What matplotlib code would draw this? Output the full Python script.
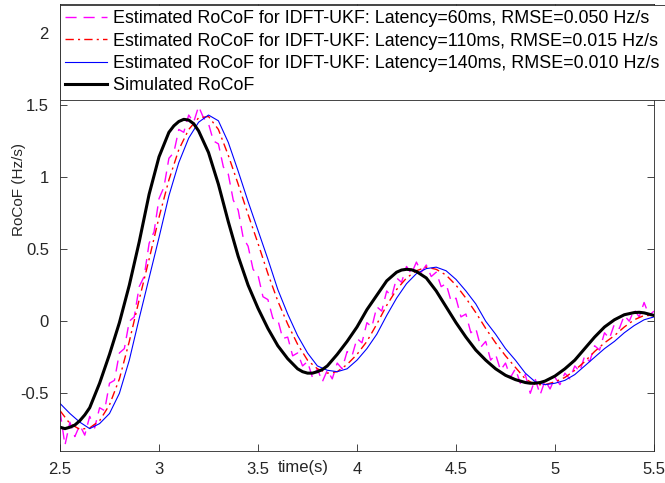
import matplotlib
matplotlib.use("Agg")
import matplotlib.pyplot as plt

plt.rcParams['font.family'] = ['Liberation Sans', 'DejaVu Sans']

# simulated RoCoF (Hz/s), extra samples around the extrema
t_sim = [2.50, 2.525, 2.55, 2.575, 2.60, 2.625, 2.65, 2.70, 2.75, 2.80, 2.85, 2.90, 2.95,
         3.00, 3.05, 3.075, 3.10, 3.125, 3.15, 3.175, 3.20, 3.25, 3.30, 3.35, 3.40, 3.45,
         3.50, 3.55, 3.60, 3.65, 3.70, 3.725, 3.75, 3.775, 3.80, 3.825, 3.85, 3.90, 3.95,
         4.00, 4.05, 4.10, 4.15, 4.20, 4.225, 4.25, 4.275, 4.30, 4.35, 4.40, 4.45,
         4.50, 4.55, 4.60, 4.65, 4.70, 4.75, 4.80, 4.85, 4.875, 4.90, 4.925, 4.95,
         5.00, 5.05, 5.10, 5.15, 5.20, 5.25, 5.30, 5.35, 5.40, 5.425, 5.45, 5.50]
rocof_sim = [-0.735, -0.745, -0.735, -0.72, -0.69, -0.65, -0.60, -0.43, -0.23, -0.01, 0.25, 0.55, 0.88,
             1.14, 1.31, 1.355, 1.385, 1.40, 1.395, 1.37, 1.32, 1.17, 0.95, 0.69, 0.45, 0.25,
             0.09, -0.05, -0.17, -0.26, -0.33, -0.35, -0.36, -0.36, -0.35, -0.335, -0.31, -0.23, -0.14,
             -0.04, 0.08, 0.18, 0.28, 0.34, 0.355, 0.36, 0.357, 0.345, 0.30, 0.21, 0.10,
             -0.01, -0.11, -0.20, -0.27, -0.33, -0.375, -0.405, -0.425, -0.43, -0.43, -0.425, -0.415,
             -0.38, -0.33, -0.27, -0.19, -0.11, -0.04, 0.01, 0.045, 0.06, 0.062, 0.058, 0.04]

# estimates, sampled every 0.05 s
t_est = [2.50, 2.55, 2.60, 2.65, 2.70, 2.75, 2.80, 2.85, 2.90, 2.95,
         3.00, 3.05, 3.10, 3.15, 3.20, 3.25, 3.30, 3.35, 3.40, 3.45,
         3.50, 3.55, 3.60, 3.65, 3.70, 3.75, 3.80, 3.85, 3.90, 3.95,
         4.00, 4.05, 4.10, 4.15, 4.20, 4.25, 4.30, 4.35, 4.40, 4.45,
         4.50, 4.55, 4.60, 4.65, 4.70, 4.75, 4.80, 4.85, 4.90, 4.95,
         5.00, 5.05, 5.10, 5.15, 5.20, 5.25, 5.30, 5.35, 5.40, 5.45, 5.50]

# latency 140 ms
rocof_140 = [-0.57, -0.64, -0.70, -0.745, -0.71, -0.64, -0.50, -0.27, 0.02, 0.30,
             0.58, 0.87, 1.10, 1.27, 1.38, 1.43, 1.39, 1.24, 1.04, 0.83,
             0.63, 0.43, 0.22, 0.05, -0.10, -0.22, -0.31, -0.34, -0.35, -0.33,
             -0.27, -0.19, -0.09, 0.04, 0.16, 0.26, 0.33, 0.365, 0.375, 0.35,
             0.29, 0.21, 0.12, 0.00, -0.09, -0.19, -0.27, -0.36, -0.42, -0.44,
             -0.43, -0.41, -0.37, -0.31, -0.25, -0.19, -0.14, -0.08, -0.03, 0.01, 0.03]

# latency 110 ms
rocof_110 = [-0.62, -0.71, -0.75, -0.74, -0.69, -0.58, -0.40, -0.14, 0.15, 0.43,
             0.72, 0.98, 1.19, 1.33, 1.41, 1.42, 1.33, 1.15, 0.95, 0.74,
             0.54, 0.33, 0.14, -0.02, -0.16, -0.27, -0.33, -0.36, -0.35, -0.30,
             -0.23, -0.14, -0.02, 0.11, 0.22, 0.30, 0.35, 0.375, 0.36, 0.32,
             0.25, 0.16, 0.06, -0.05, -0.15, -0.24, -0.32, -0.40, -0.44, -0.44,
             -0.42, -0.39, -0.34, -0.28, -0.21, -0.15, -0.10, -0.04, 0.01, 0.04, 0.04]

# latency 60 ms, sampled every 0.025 s
t_60 = [2.500, 2.525, 2.550, 2.575, 2.600, 2.625, 2.650, 2.675, 2.700, 2.725,
        2.750, 2.775, 2.800, 2.825, 2.850, 2.875, 2.900, 2.925, 2.950, 2.975,
        3.000, 3.025, 3.050, 3.075, 3.100, 3.125, 3.150, 3.175, 3.200, 3.225,
        3.250, 3.275, 3.300, 3.325, 3.350, 3.375, 3.400, 3.425, 3.450, 3.475,
        3.500, 3.525, 3.550, 3.575, 3.600, 3.625, 3.650, 3.675, 3.700, 3.725,
        3.750, 3.775, 3.800, 3.825, 3.850, 3.875, 3.900, 3.925, 3.950, 3.975,
        4.000, 4.025, 4.050, 4.075, 4.100, 4.125, 4.150, 4.175, 4.200, 4.225,
        4.250, 4.275, 4.300, 4.325, 4.350, 4.375, 4.400, 4.425, 4.450, 4.475,
        4.500, 4.525, 4.550, 4.575, 4.600, 4.625, 4.650, 4.675, 4.700, 4.725,
        4.750, 4.775, 4.800, 4.825, 4.850, 4.875, 4.900, 4.925, 4.950, 4.975,
        5.000, 5.025, 5.050, 5.075, 5.100, 5.125, 5.150, 5.175, 5.200, 5.225,
        5.250, 5.275, 5.300, 5.325, 5.350, 5.375, 5.400, 5.425, 5.450, 5.475, 5.500]
rocof_60 = [-0.62, -0.86, -0.70, -0.80, -0.72, -0.79, -0.66, -0.74, -0.60, -0.62,
            -0.43, -0.41, -0.22, -0.19, 0.00, 0.03, 0.24, 0.31, 0.54, 0.62,
            0.85, 0.93, 1.13, 1.17, 1.33, 1.31, 1.43, 1.38, 1.49, 1.41,
            1.37, 1.25, 1.23, 1.07, 1.02, 0.84, 0.77, 0.58, 0.52, 0.36,
            0.32, 0.17, 0.15, 0.02, 0.01, -0.12, -0.11, -0.24, -0.22, -0.31,
            -0.28, -0.39, -0.33, -0.42, -0.34, -0.40, -0.29, -0.33, -0.21, -0.24,
            -0.12, -0.15, -0.01, -0.04, 0.10, 0.07, 0.21, 0.17, 0.30, 0.27,
            0.38, 0.33, 0.41, 0.34, 0.39, 0.31, 0.34, 0.24, 0.26, 0.14,
            0.16, 0.03, 0.05, -0.08, -0.05, -0.18, -0.14, -0.27, -0.23, -0.34,
            -0.29, -0.39, -0.33, -0.43, -0.37, -0.50, -0.40, -0.51, -0.41, -0.47,
            -0.39, -0.44, -0.36, -0.40, -0.31, -0.35, -0.24, -0.28, -0.17, -0.20,
            -0.08, -0.12, -0.02, -0.05, 0.04, 0.00, 0.08, 0.03, 0.13, 0.04, 0.07]

labels = ['Estimated RoCoF for IDFT-UKF: Latency=60ms, RMSE=0.050 Hz/s',
          'Estimated RoCoF for IDFT-UKF: Latency=110ms, RMSE=0.015 Hz/s',
          'Estimated RoCoF for IDFT-UKF: Latency=140ms, RMSE=0.010 Hz/s',
          'Simulated RoCoF']

fig = plt.figure(figsize=(6.65, 4.83), dpi=100)
ax = fig.add_axes([60 / 665, 32 / 483, 594 / 665, 447 / 483])

ax.plot(t_60, rocof_60, color='#ff00ff', lw=1.0, dashes=(8, 5), label=labels[0])
ax.plot(t_est, rocof_110, color='#ff0000', lw=1.0, dashes=(6, 3, 1.5, 3), label=labels[1])
ax.plot(t_est, rocof_140, color='#0000ff', lw=0.8, label=labels[2])
ax.plot(t_sim, rocof_sim, color='k', lw=2.2, label=labels[3])

ax.set_xlim(2.5, 5.5)
ax.set_ylim(-0.9, 2.2)
ax.set_xticks([2.5, 3, 3.5, 4, 4.5, 5, 5.5])
ax.set_xticklabels(['2.5', '3', '3.5', '4', '4.5', '5', '5.5'])
ax.set_yticks([-0.5, 0, 0.5, 1, 1.5, 2])
ax.set_yticklabels(['-0.5', '0', '0.5', '1', '1.5', '2'])
ax.tick_params(direction='in', length=5, width=0.6, colors='#262626',
               labelsize=12, right=True, top=True, pad=8)
for s in ax.spines.values():
    s.set_color('#262626')
    s.set_linewidth(0.6)

ax.set_ylabel('RoCoF (Hz/s)', fontsize=11, color='#262626')
ax.yaxis.set_label_coords(-0.057, 0.584)
ax.set_xlabel('time(s)', fontsize=12, color='#262626')
ax.xaxis.set_label_coords(0.409, -0.036)
ax.xaxis.label.set_va('center')

leg = ax.legend(loc='upper left', bbox_to_anchor=(60 / 665, 1 - 5 / 483),
                bbox_transform=fig.transFigure, borderaxespad=0, fontsize=12.9,
                frameon=True, fancybox=False, framealpha=1, edgecolor='#262626',
                handlelength=2.35, handletextpad=0.3, labelspacing=0.3,
                borderpad=0.3)
leg.get_frame().set_linewidth(0.6)

fig.savefig('out.png', dpi=100)
